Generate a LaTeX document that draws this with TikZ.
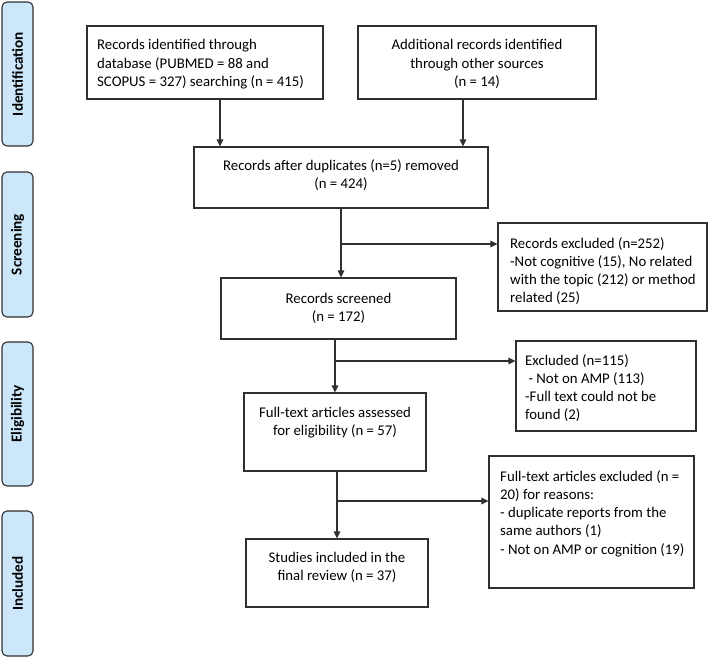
\documentclass[tikz,border=0pt]{standalone}
\usepackage{fontspec}
\setmainfont{Carlito}
\usetikzlibrary{arrows.meta}
\definecolor{sidefill}{HTML}{CCE7FA}
\definecolor{lineclr}{HTML}{303030}
\begin{document}
\begin{tikzpicture}[x=1pt,y=-1pt,
  box/.style={draw=lineclr,line width=1.1pt,rectangle,inner sep=0pt},
  side/.style={draw=lineclr,line width=1.1pt,fill=sidefill,rounded corners=5pt,inner sep=0pt},
  sidetxt/.style={rotate=90,font=\fontsize{15.2}{18}\selectfont\bfseries,inner sep=0pt},
  txt/.style={inner sep=0pt,font=\fontsize{14.8}{18.3}\selectfont},
  conn/.style={draw=lineclr,line width=1.2pt},
  arr/.style={conn,-{Triangle[length=7pt,width=6.5pt]}}]
\useasboundingbox (0,0) rectangle (709,658);
% side labels
\node[side,minimum width=31pt,minimum height=144pt] (s1) at (17.5,74) {};
\node[sidetxt] (s1t) at (s1.center) {Identification};
\node[side,minimum width=31pt,minimum height=145pt] (s2) at (17.5,244.5) {};
\node[sidetxt] (s2t) at (s2.center) {Screening};
\node[side,minimum width=31pt,minimum height=144pt] (s3) at (17.5,414) {};
\node[sidetxt] (s3t) at (s3.center) {Eligibility};
\node[side,minimum width=31pt,minimum height=145pt] (s4) at (17.5,583.5) {};
\node[sidetxt] (s4t) at (s4.center) {Included};
% boxes
\node[box,minimum width=236pt,minimum height=73pt] (b1) at (205,62.5) {};
\node[txt,anchor=base west,align=left] (b1t) at (97,86.6) {Records identified through\\database (PUBMED = 88 and\\SCOPUS = 327) searching (n = 415)};
\node[box,minimum width=238pt,minimum height=73pt] (b2) at (477,62.5) {};
\node[txt,anchor=base,align=center] (b2t) at (477,86.6) {Additional records identified\\through other sources\\(n = 14)};
\node[box,minimum width=294pt,minimum height=61pt] (b3) at (341,177.5) {};
\node[txt,anchor=base,align=center] (b3t) at (341,188.3) {Records after duplicates (n=5) removed\\(n = 424)};
\node[box,minimum width=235pt,minimum height=61pt] (b4) at (338.5,308.5) {};
\node[txt,anchor=base,align=center] (b4t) at (338.5,321.3) {Records screened\\(n = 172)};
\node[box,minimum width=209pt,minimum height=88pt] (e1) at (602.5,267) {};
\node[txt,anchor=base west,align=left] (e1t) at (510,302.9) {Records excluded (n=252)\\-Not cognitive (15), No related\\with the topic (212) or method\\related (25)};
\node[box,minimum width=180pt,minimum height=90pt] (e2) at (606,386) {};
\node[txt,anchor=base west,align=left] (e2t) at (525,419.9) {Excluded (n=115)\\\ - Not on AMP (113)\\-Full text could not be\\found (2)};
\node[box,minimum width=182pt,minimum height=78pt] (b5) at (335,432) {};
\node[txt,anchor=base,align=center] (b5t) at (335,435.3) {Full-text articles assessed\\for eligibility (n = 57)};
\node[box,minimum width=205pt,minimum height=132pt] (e3) at (591.5,522) {};
\node[txt,anchor=base west,align=left] (e3t) at (500,554.2) {Full-text articles excluded (n =\\20) for reasons:\\- duplicate reports from the\\same authors (1)\\- Not on AMP or cognition (19)};
\node[box,minimum width=182pt,minimum height=68pt] (b6) at (337,573) {};
\node[txt,anchor=base,align=center] (b6t) at (337,580.3) {Studies included in the\\final review (n = 37)};
% connectors
\draw[arr] (b1.south -| 220,0) -- (b3.north -| 220,0);
\draw[arr] (b2.south -| 463,0) -- (b3.north -| 463,0);
\draw[arr] (b3.south -| 341,0) -- (b4.north -| 341,0);
\coordinate (j1) at (341,244);
\draw[arr] (j1) -- (j1 -| e1.west);
\draw[arr] (b4.south -| 335,0) -- (b5.north -| 335,0);
\coordinate (j2) at (335,361);
\draw[arr] (j2) -- (j2 -| e2.west);
\draw[arr] (b5.south -| 337,0) -- (b6.north -| 337,0);
\coordinate (j3) at (337,501);
\draw[arr] (j3) -- (j3 -| e3.west);
\end{tikzpicture}
\end{document}
